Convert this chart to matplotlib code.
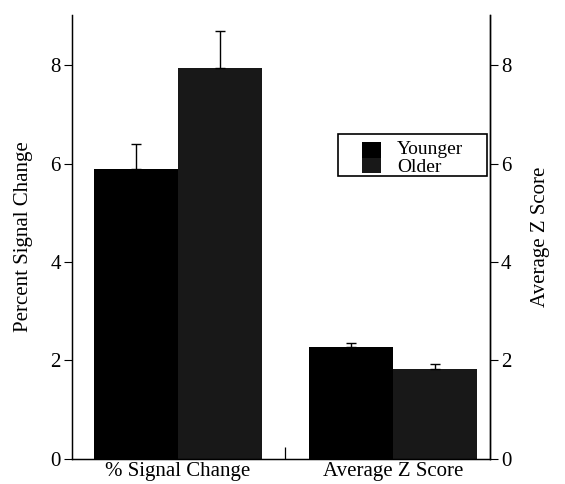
import numpy as np
import matplotlib
matplotlib.use('Agg')
import matplotlib.pyplot as plt
import matplotlib.patches as mpatches

# data
groups = ['% Signal Change', 'Average Z Score']
younger = [5.9, 2.27]
younger_err = [0.5, 0.09]
older = [7.95, 1.82]
older_err = [0.75, 0.1]
yticks = [0, 2, 4, 6, 8]

plt.rcParams['font.family'] = 'Liberation Serif'

W, H = 565, 484
fig = plt.figure(figsize=(W / 100, H / 100), dpi=100)
ax = fig.add_axes([0.127, 0.052, 0.74, 0.917])

x = np.arange(len(groups))
w = 0.39
ax.bar(x - w / 2, younger, w, color='black', edgecolor='none')
ax.bar(x + w / 2, older, w, color='#181818', edgecolor='none')
ax.errorbar(x - w / 2, younger, yerr=[np.zeros(2), younger_err], fmt='none',
            ecolor='black', elinewidth=1, capsize=3.5, capthick=1)
ax.errorbar(x + w / 2, older, yerr=[np.zeros(2), older_err], fmt='none',
            ecolor='black', elinewidth=1, capsize=3.5, capthick=1)

ax.set_xlim(-0.493, 1.451)
ax.set_ylim(0, 9.02)
ax.set_yticks(yticks)
ax.set_xticks(x)
ax.set_xticklabels(groups, fontsize=15)
ax.set_xticks([0.5], minor=True)
ax.tick_params(axis='x', which='major', length=0, pad=2)
ax.tick_params(axis='x', which='minor', direction='in', length=9, width=0.9)
ax.tick_params(axis='y', direction='out', length=6, width=0.8, labelsize=15, pad=2)
ax.set_ylabel('Percent Signal Change', fontsize=15, labelpad=12)
ax.spines['top'].set_visible(False)
for s in ['left', 'bottom', 'right']:
    ax.spines[s].set_linewidth(1)

ax2 = ax.twinx()
ax2.set_ylim(0, 9.02)
ax2.set_yticks(yticks)
ax2.tick_params(axis='y', direction='out', length=6, width=0.8, labelsize=15, pad=2)
ax2.set_ylabel('Average Z Score', fontsize=15, labelpad=14)
ax2.spines['top'].set_visible(False)
ax2.spines['right'].set_linewidth(1)

# legend drawn by hand (one split swatch, two labels), pixel positions from the scan
def px(xp, yp):
    return xp / W, 1 - yp / H

bx, by = px(338, 176)
fig.patches.append(mpatches.Rectangle((bx, by), 149 / W, 42 / H, transform=fig.transFigure,
                                      facecolor='white', edgecolor='black', linewidth=1.2,
                                      zorder=5))
sx, sy = px(362, 158)
fig.patches.append(mpatches.Rectangle((sx, sy), 19 / W, 16 / H, transform=fig.transFigure,
                                      facecolor='black', edgecolor='none', zorder=6))
sx, sy = px(362, 173)
fig.patches.append(mpatches.Rectangle((sx, sy), 19 / W, 15 / H, transform=fig.transFigure,
                                      facecolor='#181818', edgecolor='none', zorder=6))
tx, ty = px(397, 150)
fig.text(tx, ty, 'Younger', fontsize=14, va='center', ha='left', zorder=7)
tx, ty = px(397, 167)
fig.text(tx, ty, 'Older', fontsize=14, va='center', ha='left', zorder=7)

fig.savefig('out.png', dpi=100)
